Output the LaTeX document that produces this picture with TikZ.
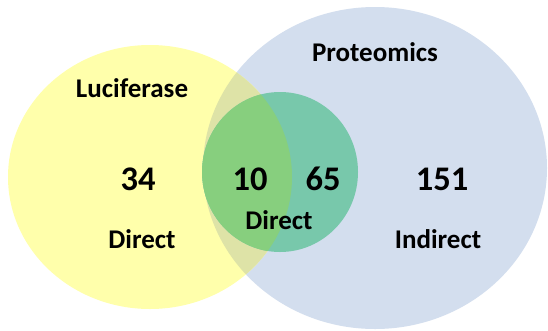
\documentclass[tikz,border=0pt]{standalone}
\usepackage{fontspec}
\setmainfont{Carlito}
\definecolor{lucFill}{HTML}{FFFFAB}
\definecolor{protFill}{HTML}{D3DEEE}
\definecolor{bothFill}{HTML}{DEE3A7}
\definecolor{grnProt}{HTML}{78C8AB}
\definecolor{grnLuc}{HTML}{87CF7E}
\begin{document}
\begin{tikzpicture}[x=1pt,y=-1pt,
  lab/.style={font=\fontsize{27}{30}\selectfont\bfseries, inner sep=0pt},
  num/.style={font=\fontsize{34.5}{38}\selectfont\bfseries, inner sep=0pt}]
\useasboundingbox (0,0) rectangle (548,330);
\fill[white] (0,0) rectangle (548,330);
% Proteomics set
\fill[protFill] (375,168) ellipse [x radius=172, y radius=161];
% Luciferase set
\fill[lucFill] (150,177) ellipse [x radius=142, y radius=132];
% overlap of both sets
\begin{scope}
  \clip (375,168) ellipse [x radius=172, y radius=161];
  \fill[bothFill] (150,177) ellipse [x radius=142, y radius=132];
\end{scope}
% direct-interaction circle
\fill[grnProt] (280,172) ellipse [x radius=78, y radius=80];
\begin{scope}
  \clip (150,177) ellipse [x radius=142, y radius=132];
  \fill[grnLuc] (280,172) ellipse [x radius=78, y radius=80];
\end{scope}
% labels
\node[lab] (prot) at (375,52) {Proteomics};
\node[lab] (luc) at (132,88) {Luciferase};
\node[num] (n34) at (138,179) {34};
\node[num] (n10) at (250,179) {10};
\node[num] (n65) at (323,179) {65};
\node[num] (n151) at (442,179) {151};
\node[lab] (dirL) at (142,239) {Direct};
\node[lab] (dirM) at (279,220) {Direct};
\node[lab] (indir) at (438,239) {Indirect};
\end{tikzpicture}
\end{document}
